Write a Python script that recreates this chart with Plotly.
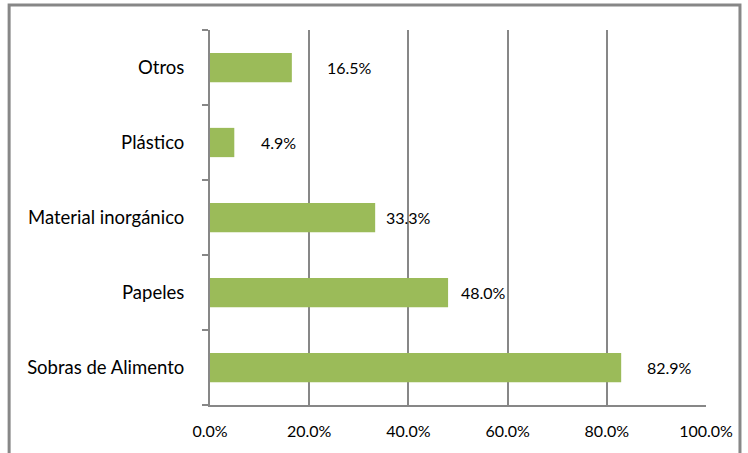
import plotly.graph_objects as go

categories = ["Sobras de Alimento", "Papeles", "Material inorgánico", "Plástico", "Otros"]
values = [0.829, 0.480, 0.333, 0.049, 0.165]
labels = ["82.9%", "48.0%", "33.3%", "4.9%", "16.5%"]
x_ticks = [0, 0.2, 0.4, 0.6, 0.8, 1.0]
x_tick_labels = ["0.0%", "20.0%", "40.0%", "60.0%", "80.0%", "100.0%"]

# label gap from bar end (pixels), styling only
label_gaps = [24, 11, 9, 25, 33]

GRAY = "#878787"
GREEN = "#9BBB59"
FONT = "Lato"

ypos = list(range(len(categories)))

fig = go.Figure()
fig.add_trace(go.Bar(
    x=values, y=ypos, orientation="h",
    marker=dict(color=GREEN, line=dict(width=0)),
    width=0.39,
    hoverinfo="skip",
))

annotations = [
    dict(x=v, y=y, xref="x", yref="y", text=t, showarrow=False,
         xanchor="left", yanchor="middle", xshift=g,
         font=dict(family=FONT, size=16, color="#000000"))
    for v, y, t, g in zip(values, ypos, labels, label_gaps)
]

fig.update_layout(
    width=748, height=453,
    margin=dict(l=210, r=42, t=30, b=48, pad=0),
    paper_bgcolor="white", plot_bgcolor="white",
    showlegend=False,
    font=dict(family=FONT, size=16, color="#000000"),
    xaxis=dict(
        range=[0, 1], tickvals=x_ticks, ticktext=x_tick_labels,
        showgrid=True, gridcolor=GRAY, gridwidth=2,
        showline=True, linecolor=GRAY, linewidth=2,
        ticks="", zeroline=False, automargin=False,
        tickfont=dict(family=FONT, size=16),
        ticklabelstandoff=11,
    ),
    yaxis=dict(
        range=[-0.5, len(categories) - 0.5],
        tickvals=ypos, ticktext=categories,
        showgrid=False, zeroline=False, automargin=False,
        showline=True, linecolor=GRAY, linewidth=2,
        ticks="",
        minor=dict(ticks="outside", tick0=-0.5, dtick=1, ticklen=6,
                   tickcolor=GRAY, tickwidth=2, showgrid=False),
        tickfont=dict(family=FONT, size=18.5),
        ticklabelstandoff=20,
    ),
    annotations=annotations,
    shapes=[dict(type="rect", xref="paper", yref="paper",
                 x0=-0.405, x1=1.0685, y0=-0.2, y1=1.0667,
                 line=dict(color=GRAY, width=3), fillcolor="rgba(0,0,0,0)",
                 layer="below")],
)

fig.write_html(
    "out.html",
    config={"displayModeBar": False, "staticPlot": True},
    post_script="document.body.style.margin='0';document.body.style.overflow='hidden';",
)
